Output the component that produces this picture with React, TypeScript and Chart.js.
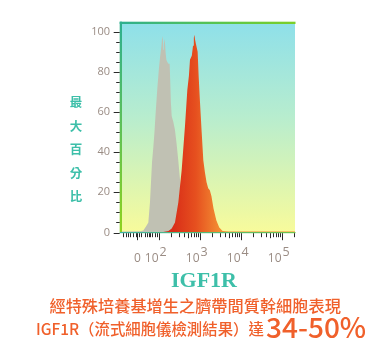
import React, { useEffect, useRef } from 'react';
import { Chart, registerables } from 'chart.js';

Chart.register(...registerables);

// ---- data (x in display decades: 2 = 10^2, 3 = 10^3 ...) ----
const grayX = [1.098, 1.537, 1.618, 1.683, 1.740, 1.780, 1.805, 1.830, 1.860, 1.890, 1.920, 1.960, 2.000, 2.030, 2.060, 2.080, 2.095, 2.105, 2.120, 2.140, 2.160, 2.180, 2.200, 2.230, 2.260, 2.275, 2.290, 2.310, 2.350, 2.390, 2.430, 2.470, 2.510, 2.550, 2.590, 2.630, 2.690, 2.760, 2.840];
const grayY = [0.5, 0.6, 1, 3, 5, 15, 25, 35, 42, 50, 60, 72, 82, 88, 93, 97.8, 96, 91, 94, 96.5, 90, 86, 85, 84, 84, 75, 65, 58, 55, 51, 44, 36, 27, 18, 10, 5, 2, 0.8, 0.3];

const orangeX = [2.100, 2.230, 2.310, 2.390, 2.472, 2.553, 2.634, 2.691, 2.730, 2.756, 2.800, 2.830, 2.850, 2.865, 2.880, 2.900, 2.943, 2.967, 3.000, 3.041, 3.081, 3.120, 3.160, 3.200, 3.240, 3.280, 3.330, 3.400, 3.470, 3.550, 3.700, 4.200, 4.800, 5.317];
const orangeY = [0.3, 0.8, 2, 5, 15, 31, 53, 71, 78, 86, 88, 93, 97, 98.5, 96, 94, 90, 78, 65, 50, 36, 30, 25, 22, 21, 18, 12, 6, 2.5, 0.8, 0.5, 0.5, 0.5, 0.5];

const xMin = 1.098;
const xMax = 5.317;
const yMax = 103.8;
const decadeTicks = [2, 3, 4, 5];
const decadeExponents = ['2', '3', '4', '5'];
const zeroTick = 1.476;
const zeroLabel = '0';
const linearRegionTicks = [1.122, 1.188, 1.251, 1.300, 1.366, 1.432, 1.512, 1.561, 1.659, 1.707, 1.749, 1.788, 1.829, 1.902, 1.950];
const yTitleChars = ['最', '大', '百', '分', '比'];
const xTitle = 'IGF1R';
const captionLine1 = '經特殊培養基增生之臍帶間質幹細胞表現';
const captionLine2 = 'IGF1R（流式細胞儀檢測結果）達';
const captionHighlight = '34-50%';

const TEAL = '#3dbfa9';
const ORANGE = '#f0602b';
const TICK_TEXT = '#9a8c84';

function toPoints(xs: number[], ys: number[]) {
  return xs.map((x, i) => ({ x, y: ys[i] }));
}

const decorPlugin = {
  id: 'decor',
  beforeDatasetsDraw(chart: any) {
    const { ctx, chartArea: a } = chart;
    const g = ctx.createLinearGradient(0, a.top, 0, a.bottom);
    g.addColorStop(0, '#8fe0e9');
    g.addColorStop(0.45, '#b8edce');
    g.addColorStop(1, '#f8fb9b');
    ctx.save();
    ctx.fillStyle = g;
    ctx.fillRect(a.left, a.top, a.right - a.left, a.bottom - a.top);
    ctx.restore();
  },
  afterDatasetsDraw(chart: any) {
    const { ctx, chartArea: a, scales } = chart;
    const xs = scales.x;
    const ys = scales.y;
    ctx.save();
    // left border
    const gl = ctx.createLinearGradient(0, a.top, 0, a.bottom);
    gl.addColorStop(0, '#2fb08e');
    gl.addColorStop(1, '#8fd21e');
    ctx.fillStyle = gl;
    ctx.fillRect(a.left - 2.3, a.top - 2.3, 2.3, a.bottom - a.top + 2.3);
    // top border
    const gt = ctx.createLinearGradient(a.left, 0, a.right, 0);
    gt.addColorStop(0, '#2fb08e');
    gt.addColorStop(0.6, '#5cc64a');
    gt.addColorStop(1, '#7ccf28');
    ctx.fillStyle = gt;
    ctx.fillRect(a.left - 2.3, a.top - 2.3, a.right - a.left + 2.8, 2.3);
    // bottom baseline
    const gb = ctx.createLinearGradient(a.left, 0, a.right, 0);
    gb.addColorStop(0, '#3fb3a0');
    gb.addColorStop(1, '#6ec24a');
    ctx.fillStyle = gb;
    ctx.fillRect(a.left - 2.3, a.bottom - 0.5, a.right - a.left + 2.8, 1.2);

    // y ticks
    ctx.strokeStyle = '#2a2a2a';
    ctx.lineWidth = 1;
    for (let v = 0; v <= 100; v += 5) {
      const y = Math.round(ys.getPixelForValue(v)) + 0.5;
      const major = v % 20 === 0;
      ctx.beginPath();
      ctx.moveTo(a.left - 2.3 - (major ? 6 : 3.5), y);
      ctx.lineTo(a.left - 2.3, y);
      ctx.stroke();
    }

    // x ticks
    const drawXTick = (v: number, len: number) => {
      const x = Math.round(xs.getPixelForValue(v)) + 0.5;
      ctx.beginPath();
      ctx.moveTo(x, a.bottom + 0.7);
      ctx.lineTo(x, a.bottom + 0.7 + len);
      ctx.stroke();
    };
    linearRegionTicks.forEach((v) => drawXTick(v, 4));
    drawXTick(zeroTick, 7);
    decadeTicks.forEach((d) => {
      drawXTick(d, 7);
      for (let k = 2; k <= 9; k++) {
        const v = d + Math.log10(k);
        if (v <= xMax) drawXTick(v, k === 5 ? 5 : 4);
      }
    });

    // x labels
    ctx.fillStyle = TICK_TEXT;
    ctx.textBaseline = 'alphabetic';
    ctx.font = '12px "Open Sans", sans-serif';
    ctx.textAlign = 'center';
    ctx.fillText(zeroLabel, xs.getPixelForValue(zeroTick), 262);
    decadeTicks.forEach((d, i) => {
      const x = xs.getPixelForValue(d);
      ctx.font = '12px "Open Sans", sans-serif';
      ctx.textAlign = 'right';
      ctx.fillText('10', x - 0.5, 262);
      ctx.font = '12.5px "Open Sans", sans-serif';
      ctx.textAlign = 'left';
      ctx.fillText(decadeExponents[i], x + 0.5, 256);
    });
    ctx.restore();
  },
};

export default function App() {
  const ref = useRef<HTMLCanvasElement | null>(null);

  useEffect(() => {
    if (!ref.current) return;
    const chart = new Chart(ref.current, {
      type: 'line',
      data: {
        datasets: [
          {
            label: 'IGF1R',
            data: toPoints(orangeX, orangeY),
            order: 0,
            fill: 'origin',
            borderWidth: 0,
            pointRadius: 0,
            tension: 0,
            borderColor: 'rgba(0,0,0,0)',
            backgroundColor: (c: any) => {
              const chart = c.chart;
              const a = chart.chartArea;
              if (!a) return '#e8501e';
              const x0 = chart.scales.x.getPixelForValue(2.35);
              const x1 = chart.scales.x.getPixelForValue(3.45);
              const g = chart.ctx.createLinearGradient(x0, 0, x1, 0);
              g.addColorStop(0, '#d92e18');
              g.addColorStop(0.5, '#e6501f');
              g.addColorStop(1, '#f28a32');
              return g;
            },
          },
          {
            label: 'control',
            data: toPoints(grayX, grayY),
            order: 1,
            fill: 'origin',
            borderWidth: 0,
            pointRadius: 0,
            tension: 0,
            borderColor: 'rgba(0,0,0,0)',
            backgroundColor: '#c0c1b3',
          },
        ],
      },
      options: {
        responsive: false,
        animation: false,
        events: [],
        layout: { padding: { left: 77, top: 24, right: 96, bottom: 125.5 } },
        plugins: { legend: { display: false }, tooltip: { enabled: false }, title: { display: false } },
        scales: {
          x: { type: 'linear', display: false, min: xMin, max: xMax },
          y: {
            type: 'linear',
            min: 0,
            max: yMax,
            grid: { display: false, drawTicks: false },
            border: { display: false },
            afterFit: (s: any) => { s.width = 45; },
            ticks: {
              stepSize: 20,
              includeBounds: false,
              padding: 12,
              color: TICK_TEXT,
              font: { family: '"Open Sans", sans-serif', size: 11 },
              callback: (v: any) => (Number(v) % 20 === 0 ? String(v) : ''),
            },
          },
        },
      },
      plugins: [decorPlugin],
    });
    return () => chart.destroy();
  }, []);

  const cjk = '"Noto Sans CJK TC", "Noto Sans CJK SC", sans-serif';

  return (
    <div style={{ position: 'absolute', left: 0, top: 0, width: 391, height: 358, background: '#fff', overflow: 'hidden' }}>
      <canvas ref={ref} width={391} height={358} style={{ position: 'absolute', left: 0, top: 0, width: 391, height: 358 }} />
      <div style={{ position: 'absolute', left: 66, top: 90.25, width: 20, textAlign: 'center', color: TEAL, fontFamily: cjk, fontSize: 12.5, fontWeight: 700, lineHeight: '23.5px' }}>
        {yTitleChars.map((c, i) => (<div key={i}>{c}</div>))}
      </div>
      <div style={{ position: 'absolute', left: 104, top: 269.2, width: 200, textAlign: 'center', color: TEAL, fontFamily: '"Liberation Serif", serif', fontWeight: 700, fontSize: 22, lineHeight: '22px' }}>
        {xTitle}
      </div>
      <div style={{ position: 'absolute', left: 49.5, top: 296.8, whiteSpace: 'nowrap', color: ORANGE, fontFamily: cjk, fontSize: 16.2, lineHeight: 1, fontWeight: 500 }}>
        {captionLine1}
      </div>
      <div style={{ position: 'absolute', left: 36, top: 320.5, whiteSpace: 'nowrap', color: ORANGE, fontFamily: cjk, fontSize: 15.4, lineHeight: 1, fontWeight: 500 }}>
        {captionLine2}
      </div>
      <div style={{ position: 'absolute', left: 266, top: 311.5, whiteSpace: 'nowrap', color: ORANGE, fontFamily: cjk, fontSize: 28, lineHeight: 1, fontWeight: 500 }}>
        {captionHighlight}
      </div>
    </div>
  );
}
